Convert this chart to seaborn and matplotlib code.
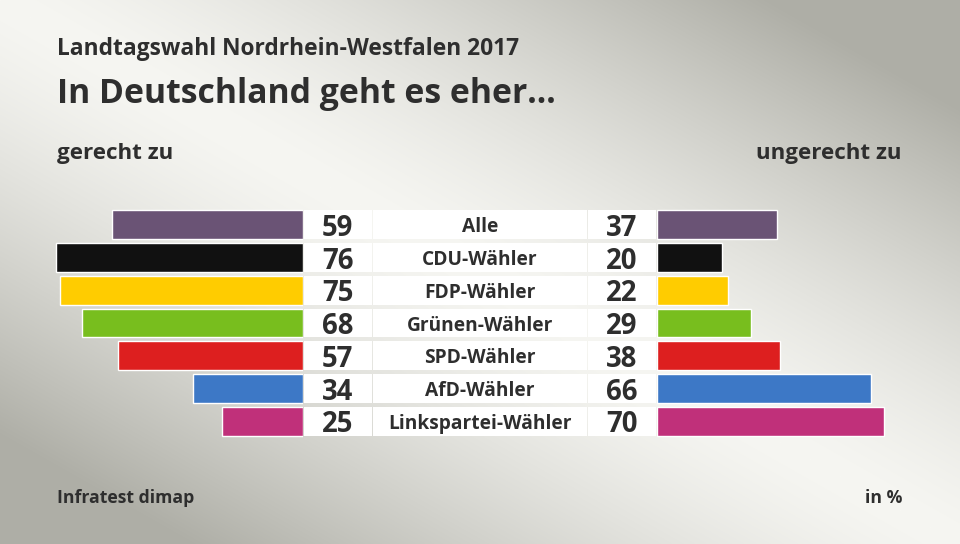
import numpy as np
import pandas as pd
import matplotlib
matplotlib.use("Agg")
import matplotlib.pyplot as plt
import seaborn as sns

# data
gruppen = ["Alle", "CDU-Wähler", "FDP-Wähler", "Grünen-Wähler",
           "SPD-Wähler", "AfD-Wähler", "Linkspartei-Wähler"]
gerecht = [59, 76, 75, 68, 57, 34, 25]
ungerecht = [37, 20, 22, 29, 38, 66, 70]
farben = ["#6a5375", "#111111", "#ffcc00", "#78be1e",
          "#dd1f1f", "#3d78c6", "#c0307a"]

df = pd.DataFrame({"gruppe": gruppen, "gerecht": gerecht, "ungerecht": ungerecht})
pal = dict(zip(gruppen, farben))

sns.set_style("white")
plt.rcParams["font.family"] = ["Open Sans", "DejaVu Sans"]
txt = "#2e2e2e"

W, H = 960, 544
fig = plt.figure(figsize=(9.6, 5.44), dpi=100)

# background gradient (light diagonal band)
ax_bg = fig.add_axes([0, 0, 1, 1])
yy, xx = np.mgrid[0:H, 0:W]
d = np.abs(544 * xx - 960 * yy) / np.hypot(960, 544)
v = np.clip(d / 380, 0, 1) ** 1.4
light = np.array([246, 246, 242]) / 255
dark = np.array([174, 174, 166]) / 255
img = light[None, None, :] + (dark - light)[None, None, :] * v[..., None]
ax_bg.imshow(img, extent=[0, W, H, 0], aspect="auto")
ax_bg.set_xlim(0, W)
ax_bg.set_ylim(H, 0)
ax_bg.axis("off")

# layout (pixels)
scale = 3.25            # px per percent
left_end = 303.3
right_start = 656.7
y_top = 224.8 - 16.4
y_bot = 421.3 + 16.4
bw = 0.877

ax_b = (H - y_bot) / H
ax_h = (y_bot - y_top) / H

ax_l = fig.add_axes([0, ax_b, left_end / W, ax_h])
ax_r = fig.add_axes([right_start / W, ax_b, (W - right_start) / W, ax_h])
ax_m = fig.add_axes([left_end / W, ax_b, (right_start - left_end) / W, ax_h])

sns.barplot(data=df, x="gerecht", y="gruppe", hue="gruppe", palette=pal,
            legend=False, orient="h", width=bw, saturation=1, ax=ax_l)
sns.barplot(data=df, x="ungerecht", y="gruppe", hue="gruppe", palette=pal,
            legend=False, orient="h", width=bw, saturation=1, ax=ax_r)

ax_l.set_xlim(left_end / scale, 0)
ax_r.set_xlim(0, (W - right_start) / scale)

# middle white boxes with numbers and labels
mw = right_start - left_end
ax_m.set_xlim(0, mw)
pos = np.arange(len(gruppen))
boxes = [(0.5, 67.9), (69.7, 213.7), (284.7, 68.0)]
for x0, wdt in boxes:
    ax_m.barh(pos, wdt, left=x0, height=bw, color="white", linewidth=0)
for i in pos:
    ax_m.text(0.5 + 67.9 / 2, i, str(gerecht[i]), ha="center", va="center_baseline",
              fontsize=19.8, fontweight="bold", color=txt)
    ax_m.text(69.7 + 213.7 / 2, i, gruppen[i], ha="center", va="center_baseline",
              fontsize=13.8, fontweight="bold", color=txt)
    ax_m.text(284.7 + 68.0 / 2, i, str(ungerecht[i]), ha="center", va="center_baseline",
              fontsize=19.8, fontweight="bold", color=txt)

for ax in (ax_l, ax_r, ax_m):
    ax.set_ylim(len(gruppen) - 0.5, -0.5)
    ax.axis("off")
    ax.patch.set_alpha(0)

# texts
fig.text(57 / W, 1 - 49 / H, "Landtagswahl Nordrhein-Westfalen 2017", ha="left",
         va="center", fontsize=16.4, fontweight="bold", color=txt)
fig.text(57 / W, 1 - 94 / H, "In Deutschland geht es eher...", ha="left",
         va="center", fontsize=24.3, fontweight="bold", color=txt)
fig.text(57 / W, 1 - 154 / H, "gerecht zu", ha="left", va="center",
         fontsize=16.1, fontweight="bold", color=txt)
fig.text(902 / W, 1 - 154 / H, "ungerecht zu", ha="right", va="center",
         fontsize=16.1, fontweight="bold", color=txt)
fig.text(57 / W, 1 - 498 / H, "Infratest dimap", ha="left", va="center",
         fontsize=12.7, fontweight="bold", color=txt)
fig.text(902 / W, 1 - 498 / H, "in %", ha="right", va="center",
         fontsize=12.7, fontweight="bold", color=txt)

fig.savefig("out.png", dpi=100)
